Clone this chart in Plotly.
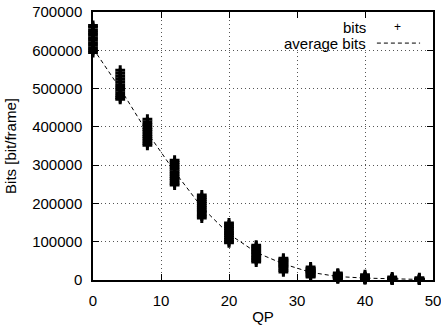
import plotly.graph_objects as go

qp = [0, 4, 8, 12, 16, 20, 24, 28, 32, 36, 40, 44, 48]

bits_qp0 = [665000, 660000, 652000, 645000, 640000, 633000, 627000, 620000, 613000, 606000, 600000, 594000]
bits_qp4 = [548000, 540000, 532000, 525000, 518000, 510000, 503000, 496000, 489000, 482000, 476000, 472000]
bits_qp8 = [420000, 413000, 406000, 399000, 393000, 387000, 381000, 375000, 369000, 363000, 357000, 352000]
bits_qp12 = [313000, 307000, 301000, 295000, 289000, 283000, 277000, 271000, 265000, 259000, 253000, 248000]
bits_qp16 = [222000, 216000, 211000, 205000, 200000, 194000, 189000, 183000, 178000, 172000, 167000, 162000]
bits_qp20 = [149000, 144000, 139000, 135000, 130000, 125000, 121000, 116000, 111000, 106000, 101000, 97000]
bits_qp24 = [91000, 87000, 83000, 79000, 75000, 71000, 67000, 63000, 59000, 55000, 51000, 47000]
bits_qp28 = [57000, 54000, 51000, 48000, 45000, 42000, 39000, 36000, 33000, 29000, 25000, 21000]
bits_qp32 = [34000, 31000, 29000, 26000, 24000, 22000, 20000, 18000, 16000, 13000, 10000, 8000]
bits_qp36 = [18000, 16000, 14000, 12000, 11000, 10000, 9000, 8000, 7000, 6000, 4000, 3000]
bits_qp40 = [14000, 10000, 8000, 7000, 6000, 5000, 5000, 4000, 4000, 3000, 2000, 1000]
bits_qp44 = [8000, 5000, 4000, 3000, 3000, 2000, 2000, 2000, 1000, 1000, 1000, 500]
bits_qp48 = [6000, 3000, 2000, 2000, 1500, 1500, 1000, 1000, 1000, 500, 500, 300]

bits_all = [bits_qp0, bits_qp4, bits_qp8, bits_qp12, bits_qp16, bits_qp20, bits_qp24,
            bits_qp28, bits_qp32, bits_qp36, bits_qp40, bits_qp44, bits_qp48]

average_bits = [605000, 500000, 385000, 283000, 190000, 120000, 72000, 42000, 20000, 9000, 5000, 2500, 1500]

x_ticks = [0, 10, 20, 30, 40, 50]
y_ticks = [0, 100000, 200000, 300000, 400000, 500000, 600000, 700000]

FONT = "Liberation Sans, Arial, Helvetica, sans-serif"
FS = 15

xs, ys = [], []
for q, vals in zip(qp, bits_all):
    for v in vals:
        xs.append(q)
        ys.append(v)

fig = go.Figure()
fig.add_trace(go.Scatter(
    x=qp, y=average_bits, mode="lines", name="average bits",
    line=dict(color="black", width=1, dash="4px,3px"), showlegend=False))
fig.add_trace(go.Scatter(
    x=xs, y=ys, mode="markers", name="bits", cliponaxis=False,
    marker=dict(symbol="cross-thin", size=7, color="black",
                line=dict(color="black", width=3)),
    showlegend=False))

axis_common = dict(
    showline=True, linecolor="black", linewidth=1.5, mirror="ticks",
    ticks="inside", ticklen=6, tickwidth=1.2, tickcolor="black",
    showgrid=True, gridcolor="#555", gridwidth=1, griddash="1px,3px",
    zeroline=False, tickfont=dict(family=FONT, size=FS, color="black"),
    automargin=False, ticklabelstandoff=6, ticklabeloverflow="allow",
)

fig.update_xaxes(range=[0, 50], tickvals=x_ticks, ticktext=[str(t) for t in x_ticks],
                 title=dict(text="QP", font=dict(family=FONT, size=FS, color="black"), standoff=4),
                 **axis_common)
fig.update_yaxes(range=[0, 700000], tickvals=y_ticks, ticktext=[str(t) for t in y_ticks],
                 title=dict(text="Bits [bit/frame]", font=dict(family=FONT, size=FS, color="black"), standoff=12),
                 **axis_common)

# legend (gnuplot style: text right-aligned, key sample on the right)
fig.add_shape(type="rect", xref="paper", yref="paper", x0=0.55, x1=0.995, y0=0.86, y1=0.97,
              fillcolor="white", line=dict(width=0), layer="above")
fig.add_shape(type="line", xref="paper", yref="paper", x0=0.835, x1=0.962, y0=0.884, y1=0.884,
              line=dict(color="black", width=1, dash="4px,3px"), layer="above")
fig.add_annotation(xref="paper", yref="paper", x=0.809, y=0.944, text="bits", showarrow=False,
                   xanchor="right", yanchor="middle", font=dict(family=FONT, size=FS, color="black"))
fig.add_annotation(xref="paper", yref="paper", x=0.809, y=0.884, text="average bits", showarrow=False,
                   xanchor="right", yanchor="middle", font=dict(family=FONT, size=FS, color="black"))
fig.add_annotation(xref="paper", yref="paper", x=0.897, y=0.944, text="+", showarrow=False,
                   xanchor="center", yanchor="middle", font=dict(family=FONT, size=12, color="black"))

fig.update_layout(
    width=441, height=326,
    margin=dict(l=93, r=8, t=12, b=46),
    paper_bgcolor="white", plot_bgcolor="white",
    font=dict(family=FONT, size=FS, color="black"),
)

fig.write_html("out.html", config={"displayModeBar": False},
               post_script="document.body.style.margin='0';document.body.style.overflow='hidden';")
